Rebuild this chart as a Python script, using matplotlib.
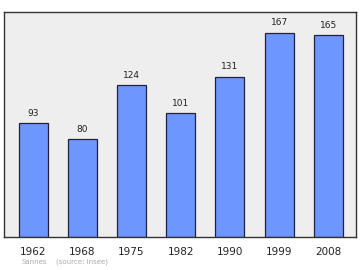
import matplotlib
matplotlib.use("Agg")
import matplotlib.pyplot as plt

# population data
annees = ["1962", "1968", "1975", "1982", "1990", "1999", "2008"]
population = [93, 80, 124, 101, 131, 167, 165]

fig = plt.figure(figsize=(3.6, 2.7), dpi=100)
# frame from x=4..356, y=12..237 px
ax = fig.add_axes([4/360, 1 - 237/270, 352/360, 225/270])
ax.set_facecolor("#eeeeee")

x = range(len(annees))
ax.bar(x, population, width=0.59, color="#6e96ff", edgecolor="#202040", linewidth=0.9)
for i, v in zip(x, population):
    ax.text(i, v + 4.5, str(v), ha="center", va="bottom", fontsize=6.5, color="#222222")

ax.set_xlim(-0.59, 6.56)
ax.set_ylim(0, 184)
ax.set_yticks([])
ax.set_xticks(list(x))
ax.set_xticklabels(annees, fontsize=7.5, color="#222222")
ax.tick_params(axis="x", length=0, pad=7)
for s in ax.spines.values():
    s.set_color("#333333")
    s.set_linewidth(1.0)

fig.text(22/360, 1 - 262/270, "Sannes", fontsize=5, color="#aaaaaa", va="center")
fig.text(56/360, 1 - 262/270, "(source: Insee)", fontsize=5, color="#aaaaaa", va="center")

fig.savefig("out.png", dpi=100)
